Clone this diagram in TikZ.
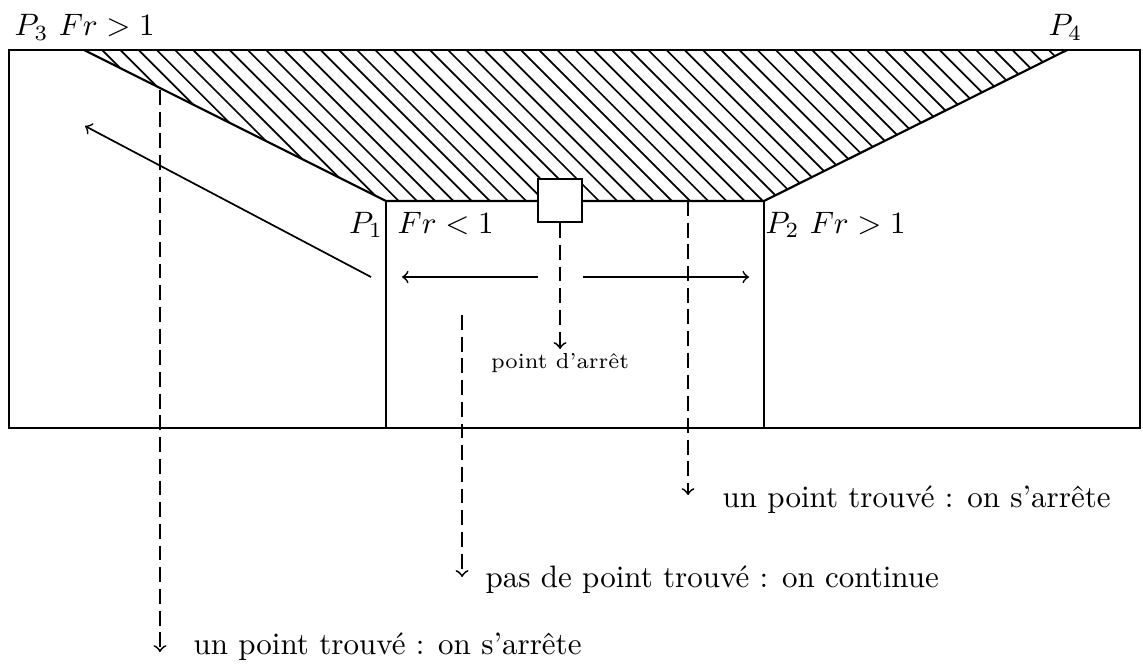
\documentclass[tikz,border=0pt]{standalone}
\usepackage{amsmath}
\usepackage{tikz}

\begin{document}
\begin{tikzpicture}[
      cadre/.style={draw=black, line width=0.7pt},
      hach/.style={draw=black, line width=0.55pt},
      fleche/.style={draw=black, line width=0.55pt, ->},
      pointille/.style={draw=black, line width=0.6pt, ->,
                        dash pattern=on 4.8pt off 2.2pt},
      lbl/.style={inner sep=0pt, font=\normalsize},
    ]
    \def\hx{0.2064}
    %% margins of the picture
    \useasboundingbox (0,0) rectangle (12.96,7.597);
    %% corners of the channel
    \coordinate (bg) at (0.10,2.744);
    \coordinate (hd) at (12.93,7.030);
    \coordinate (P1) at (4.377,5.318);
    \coordinate (P2) at (8.663,5.318);
    \coordinate (P3) at (0.952,7.030);
    \coordinate (P4) at (12.099,7.030);
    %% hatched zone
    \begin{scope}
      \clip (P3) -- (P1) -- (P2) -- (P4) -- cycle;
      \foreach \i in {0,...,54}{
        \draw[hach] ({0.952+\i*\hx},7.030) -- ++(1.8,-1.8);
      }
    \end{scope}
    %% outline
    \draw[cadre] (bg) rectangle (hd);
    \draw[cadre] (P3) -- (P1) -- (P2) -- (P4);
    \draw[cadre] (P1) -- (P1 |- bg);
    \draw[cadre] (P2) -- (P2 |- bg);
    %% probe on the crest
    \node[cadre, fill=white, minimum width=0.5cm, minimum height=0.49cm,
          inner sep=0pt] (cell) at (6.350,5.324) {};
    %% corner labels
    \node[lbl, anchor=base west] (l3) at (0.159,7.189) {$P_3$ $Fr>1$};
    \node[lbl, anchor=base] (l4) at (12.08,7.189) {$P_4$};
    \node[lbl, anchor=base east] (l1) at (4.350,4.955) {$P_1$};
    \node[lbl, anchor=base west] (l1b) at (4.502,4.955) {$Fr<1$};
    \node[lbl, anchor=base west] (l2) at (8.674,4.955) {$P_2$ $Fr>1$};
    %% search directions
    \coordinate (g0) at (6.100,4.456);
    \coordinate (g1) at (4.558,4.456);
    \coordinate (d0) at (6.611,4.456);
    \coordinate (d1) at (8.493,4.456);
    \coordinate (o0) at (4.207,4.456);
    \coordinate (o1) at (0.964,6.168);
    \draw[fleche] (g0) -- (g1);
    \draw[fleche] (d0) -- (d1);
    \draw[fleche] (o0) -- (o1);
    %% vertical scans
    \coordinate (s1) at (6.350,3.640);
    \coordinate (a0) at (1.814,6.577);
    \coordinate (a1) at (1.814,0.204);
    \coordinate (b0) at (5.239,4.025);
    \coordinate (b1) at (5.239,1.055);
    \coordinate (c0) at (7.801,5.318);
    \coordinate (c1) at (7.801,1.984);
    \draw[pointille] (cell.south) -- (s1);
    \draw[pointille] (a0) -- (a1);
    \draw[pointille] (b0) -- (b1);
    \draw[pointille] (c0) -- (c1);
    %% results
    \node[lbl, font=\scriptsize, anchor=base] (pa) at (6.350,3.415) {point d'arrêt};
    \node[lbl, anchor=base west] (t1) at (2.188,0.181) {un point trouvé : on s'arrête};
    \node[lbl, anchor=base west] (t2) at (5.499,0.930) {pas de point trouvé : on continue};
    \node[lbl, anchor=base west] (t3) at (8.187,1.848) {un point trouvé : on s'arrête};
\end{tikzpicture}
\end{document}
